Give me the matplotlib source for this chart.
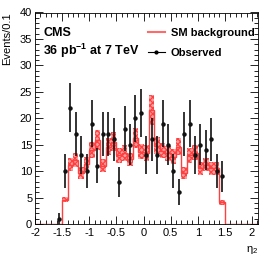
import numpy as np
import matplotlib
matplotlib.use("Agg")
import matplotlib.pyplot as plt
from matplotlib.lines import Line2D

plt.rcParams['font.family'] = ['Liberation Sans', 'DejaVu Sans']
plt.rcParams['hatch.color'] = '#ff4040'
plt.rcParams['hatch.linewidth'] = 0.9

# Background histogram: bins of width 0.1 from -1.5 to 1.5
bg_edges = [round(-1.5 + 0.1 * i, 2) for i in range(31)]
bg_values = [4.6, 11.2, 12.1, 9.6, 11.4, 14.0, 15.9, 11.0, 14.6, 15.6,
             13.0, 13.5, 12.2, 16.3, 13.7, 13.5, 21.6, 14.8, 13.9, 13.4,
             12.7, 14.6, 9.6, 13.0, 13.5, 10.5, 11.2, 10.5, 10.5, 4.1]
bg_errors = [0.5, 1.2, 1.3, 1.1, 1.2, 1.5, 1.9, 1.2, 1.6, 1.8,
             1.4, 1.5, 1.3, 1.9, 1.5, 1.5, 2.8, 1.6, 1.5, 1.4,
             1.4, 1.6, 1.1, 1.4, 1.4, 1.2, 1.2, 1.2, 1.2, 0.5]

# Observed data
obs_x = [-1.55, -1.45, -1.35, -1.25, -1.15, -1.05, -0.95, -0.85, -0.75, -0.65,
         -0.55, -0.45, -0.35, -0.25, -0.15, -0.05, 0.05, 0.15, 0.25, 0.35,
         0.45, 0.55, 0.65, 0.75, 0.85, 0.95, 1.05, 1.15, 1.25, 1.35, 1.45]
obs_y = [1, 10, 22, 17, 13, 10, 19, 11, 17, 17,
         16, 8, 18, 15, 20, 21, 13, 16, 13, 19,
         15, 10, 6, 17, 19, 13, 15, 14, 16, 10, 9]

x_ticks = [-2, -1.5, -1, -0.5, 0, 0.5, 1, 1.5, 2]
x_ticklabels = ['-2', '-1.5', '-1', '-0.5', '0', '0.5', '1', '1.5', '2']
y_ticks = [0, 5, 10, 15, 20, 25, 30, 35, 40]

fig = plt.figure(figsize=(2.69, 2.58), dpi=100)
ax = fig.add_axes([35 / 269, 1 - 224 / 258, (258 - 35) / 269, (224 - 12.5) / 258])

edges = np.array(bg_edges)
vals = np.array(bg_values)
errs = np.array(bg_errors)

lo = np.append(vals - errs, (vals - errs)[-1])
hi = np.append(vals + errs, (vals + errs)[-1])
ax.fill_between(edges, lo, hi, step='post', facecolor='#ffa0a0',
                edgecolor='none', zorder=1)
ax.fill_between(edges, lo, hi, step='post', facecolor='none',
                edgecolor='#ff4040', linewidth=0, hatch='xxxxxx', zorder=1)

full_edges = np.concatenate([[-2.0], edges, [2.1]])
full_vals = np.concatenate([[0.0], vals, [0.0]])
ax.stairs(full_vals, full_edges, color='#ff4040', linewidth=1.0, zorder=2)

ox = np.array(obs_x)
oy = np.array(obs_y, dtype=float)
ax.errorbar(ox, oy, yerr=np.sqrt(oy), xerr=0.015, fmt='o', color='#111111',
            markersize=2.2, elinewidth=1.2, capsize=0, zorder=3)

ax.set_xlim(-2, 2.11)
ax.set_ylim(0, 40)
ax.set_xticks(x_ticks)
ax.set_xticklabels(x_ticklabels)
ax.set_yticks(y_ticks)
ax.set_xticks(np.arange(-2, 2.11, 0.1), minor=True)
ax.set_yticks(np.arange(0, 41, 1), minor=True)
ax.tick_params(which='both', direction='in', top=True, right=True, labelsize=8,
               width=0.6)
ax.tick_params(axis='x', which='both', pad=3)
ax.tick_params(axis='y', which='both', pad=2)
ax.tick_params(which='major', length=6)
ax.tick_params(which='minor', length=3)
for s in ax.spines.values():
    s.set_linewidth(0.6)

ax.text(0.036, 0.903, 'CMS', transform=ax.transAxes, fontsize=9, fontweight='bold',
        va='center', ha='left')
ax.text(0.036, 0.818, r'36 pb$^{\mathregular{-1}}$ at 7 TeV', transform=ax.transAxes,
        fontsize=9, fontweight='bold', va='center', ha='left')

handles = [Line2D([], [], color='#ff6a6a', linewidth=1.5),
           Line2D([], [], color='black', linewidth=0.8, marker='o', markersize=2)]
labels = ['SM background', 'Observed']
leg = ax.legend(handles, labels, loc='upper right', bbox_to_anchor=(0.985, 0.925),
                frameon=False, fontsize=8, handlelength=1.6, handletextpad=0.5,
                labelspacing=0.9, borderaxespad=0.0, borderpad=0.0)
for t in leg.get_texts():
    t.set_fontweight('bold')

fig.text(7 / 269, 1 - 12 / 258, 'Events/0.1', rotation=90, fontsize=8,
         ha='center', va='top')
fig.text(258 / 269, 1 - 250 / 258, r'$\mathregular{\eta_2}$', fontsize=8,
         ha='right', va='center')

fig.savefig('out.png', dpi=100)
